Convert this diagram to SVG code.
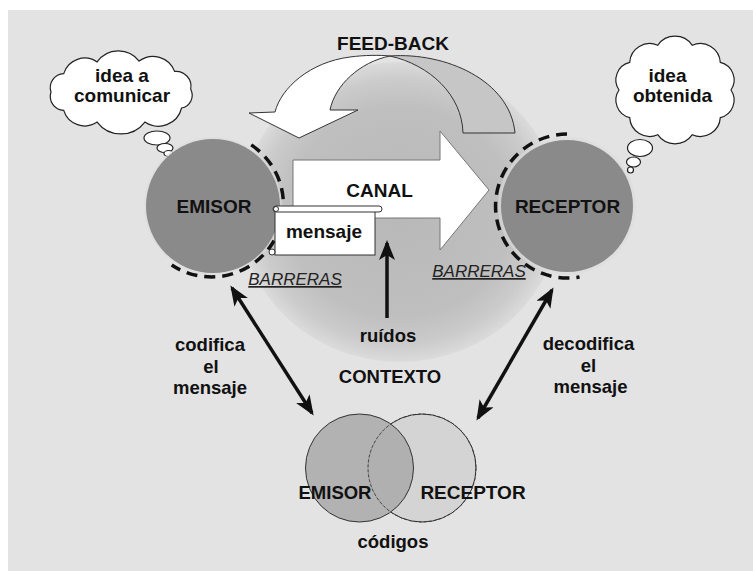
<svg xmlns="http://www.w3.org/2000/svg" width="753" height="571" viewBox="0 0 753 571">
<style>
.t{font-family:"Liberation Sans",Arial,sans-serif;font-weight:bold;font-size:19px;fill:#111;text-anchor:middle}
.s{font-size:18.5px}
.bar{font-family:"Liberation Sans",Arial,sans-serif;font-style:italic;font-size:17px;fill:#222;text-anchor:middle;text-decoration:underline}
.cloud{fill:#fff;stroke:#222;stroke-width:1.2}
.node{fill:#8a8a8a}
.dash{fill:none;stroke:#111;stroke-width:3.5;stroke-dasharray:11 7}
.line{stroke:#111;stroke-width:3.5;fill:none}
.outl{stroke:#333;stroke-width:1}
</style>
<defs>
<radialGradient id="ctx" cx="50%" cy="50%" r="50%">
<stop offset="0" stop-color="#b8b8b8"/>
<stop offset="0.7" stop-color="#bfbfbf"/>
<stop offset="0.88" stop-color="#cbcbcb"/>
<stop offset="1" stop-color="#dbdbdb"/>
</radialGradient>
<marker id="ah" viewBox="0 0 20 16" refX="17" refY="8" markerWidth="20" markerHeight="16" markerUnits="userSpaceOnUse" orient="auto-start-reverse">
<path d="M0,0 L20,8 L0,16 L5,8 Z" fill="#111"/>
</marker>
</defs>
<rect x="0" y="0" width="753" height="571" fill="#fff"/>
<rect x="8" y="10" width="745" height="561" fill="#e3e3e3"/>

<g id="contexto">
<ellipse cx="400" cy="212" rx="160" ry="150" fill="url(#ctx)"/>
<text class="t s" x="390" y="383">CONTEXTO</text>
</g>

<g id="feedback">
<path d="M390,56 C445,52 510,80 515,133 L463,133 C462,95 430,65 390,56 Z" fill="#c6c6c6" class="outl"/>
<path d="M249,113 L275,112 C281,88 310,62 350,57 C365,55 380,55 390,56 C360,62 335,85 330,110 L358,110 L299,138 Z" fill="#fff" class="outl"/>
<text class="t" x="393" y="50">FEED-BACK</text>
</g>

<g id="idea-comunicar">
<path class="cloud" d="M51,92 A14,14 0 0 1 63.7,73.6 A22,22 0 0 1 97.1,61.9 A26,26 0 0 1 139.1,61.1 A23,23 0 0 1 174.6,71.4 A15,15 0 0 1 190.7,89.2 A13,13 0 0 1 181.6,108 A24,24 0 0 1 144.9,122.1 A30,30 0 0 1 97.1,122.1 A22,22 0 0 1 63.7,110.4 A14,14 0 0 1 51,92 Z"/>
<ellipse class="cloud" cx="157" cy="138" rx="13" ry="7"/>
<ellipse class="cloud" cx="165" cy="148" rx="8" ry="4.5"/>
<ellipse class="cloud" cx="168.5" cy="153.5" rx="4.5" ry="3"/>
<text class="t" x="122" y="82">idea a</text>
<text class="t" x="122" y="102">comunicar</text>
</g>

<g id="idea-obtenida">
<path class="cloud" d="M619,90 A18,18 0 0 1 629.7,62.4 A20,20 0 0 1 657.7,45.3 A21,21 0 0 1 692.3,45.3 A20,20 0 0 1 720.3,62.4 A18,18 0 0 1 731,90 A18,18 0 0 1 720.3,117.6 A20,20 0 0 1 692.3,134.7 A21,21 0 0 1 657.7,134.7 A20,20 0 0 1 629.7,117.6 A18,18 0 0 1 619,90 Z"/>
<ellipse class="cloud" cx="640" cy="148" rx="12.5" ry="8.5"/>
<ellipse class="cloud" cx="633.5" cy="162" rx="7" ry="5"/>
<ellipse class="cloud" cx="630.5" cy="170" rx="3" ry="3"/>
<text class="t" x="667.5" y="82">idea</text>
<text class="t" x="672.5" y="102">obtenida</text>
</g>

<g id="emisor">
<circle cx="213" cy="206" r="69" fill="#dcdcdc" opacity="0.6"/>
<circle class="node" cx="213" cy="206" r="67"/>
<path class="dash" d="M251.2,144.9 A72,72 0 1 1 171.7,265"/>
<text class="t" x="214" y="213">EMISOR</text>
</g>

<g id="receptor">
<circle cx="567" cy="206" r="69" fill="#dcdcdc" opacity="0.6"/>
<circle class="node" cx="567" cy="206" r="66"/>
<path class="dash" d="M567,134 A72,72 0 1 0 579.5,277"/>
<text class="t" x="567.5" y="213">RECEPTOR</text>
</g>

<g id="canal">
<path d="M293,160 L440,160 L440,131 L489,190 L440,250 L440,218 L293,218 Z" fill="#fff" stroke="#777" stroke-width="1"/>
<text class="t" x="379.5" y="197">CANAL</text>
</g>

<g id="mensaje">
<rect x="275" y="210" width="100" height="45" fill="#fff" class="outl"/>
<rect x="273" y="206" width="109" height="6" rx="3" fill="#fff" class="outl"/>
<circle cx="276" cy="209" r="2.5" fill="#fff" class="outl"/>
<ellipse cx="272" cy="252" rx="3" ry="3" fill="#fff" class="outl"/>
<text class="t" x="324" y="238">mensaje</text>
</g>

<g id="barreras">
<text class="bar" x="295" y="285">BARRERAS</text>
<text class="bar" x="479" y="277">BARRERAS</text>
</g>

<g id="ruidos">
<text class="t s" x="388" y="342">ruídos</text>
</g>

<g id="connectors">
<line class="line" x1="387" y1="318" x2="387" y2="243" marker-end="url(#ah)"/>
<line class="line" x1="232" y1="288" x2="312" y2="413" marker-start="url(#ah)" marker-end="url(#ah)"/>
<line class="line" x1="552" y1="290" x2="478" y2="418" marker-start="url(#ah)" marker-end="url(#ah)"/>
</g>

<g id="codifica">
<text class="t s" x="210" y="351">codifica</text>
<text class="t s" x="211" y="373">el</text>
<text class="t s" x="210" y="394">mensaje</text>
</g>

<g id="decodifica">
<text class="t s" x="588.5" y="350">decodifica</text>
<text class="t s" x="588.5" y="372">el</text>
<text class="t s" x="590.5" y="393">mensaje</text>
</g>

<g id="codigos">
<circle cx="422" cy="468" r="54" fill="#d4d4d4" stroke="#333" stroke-width="1"/>
<circle cx="359.5" cy="468" r="54" fill="#a9a9a9" fill-opacity="0.85" stroke="#333" stroke-width="1"/>
<circle cx="422" cy="468" r="54" fill="none" stroke="#333" stroke-width="0.8" stroke-dasharray="3 2"/>
<text class="t s" x="335" y="499">EMISOR</text>
<text class="t" x="473" y="499">RECEPTOR</text>
<text class="t s" x="393" y="548">códigos</text>
</g>
</svg>
